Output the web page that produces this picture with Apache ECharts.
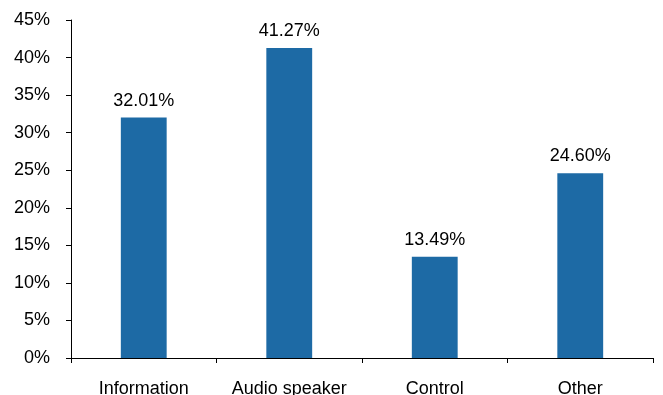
<!DOCTYPE html>
<html>
<head>
<meta charset="utf-8">
<script src="https://cdn.jsdelivr.net/npm/echarts@6/dist/echarts.min.js"></script>
<style>
  html, body { margin: 0; padding: 0; background: #fff; }
  #chart { width: 663px; height: 395px; }
</style>
</head>
<body>
<div id="chart"></div>
<script>
const categories = ['Information', 'Audio speaker', 'Control', 'Other']
const shares = [32.01, 41.27, 13.49, 24.60]
const yTicks = [0, 5, 10, 15, 20, 25, 30, 35, 40, 45]

const chart = echarts.init(document.getElementById('chart'))
const font = 'Liberation Sans, Arial, sans-serif'

chart.setOption({
  animation: false,
  grid: { left: 71, right: 10, top: 20, bottom: 37, containLabel: false, outerBoundsMode: 'none' },
  xAxis: {
    type: 'category',
    data: categories,
    axisLine: { lineStyle: { color: '#000', width: 1 } },
    axisTick: { show: true, interval: 0, alignWithLabel: false, length: 5, lineStyle: { color: '#000' } },
    axisLabel: { color: '#000', fontSize: 18, fontFamily: font, margin: 22, interval: 0, hideOverlap: false }
  },
  yAxis: {
    type: 'value',
    min: yTicks[0],
    max: yTicks[yTicks.length - 1],
    interval: 5,
    splitLine: { show: false },
    axisLine: { show: true, lineStyle: { color: '#000', width: 1 } },
    axisTick: { show: true, length: 5, lineStyle: { color: '#000' } },
    axisLabel: { color: '#000', fontSize: 18, fontFamily: font, margin: 21, formatter: '{value}%' }
  },
  series: [{
    type: 'bar',
    data: shares,
    barWidth: '31.5%',
    itemStyle: { color: '#1d6aa5' },
    label: {
      show: true,
      position: 'top',
      distance: 8,
      color: '#000',
      fontSize: 18,
      fontFamily: font,
      formatter: p => p.value.toFixed(2) + '%'
    }
  }]
})
</script>
</body>
</html>
